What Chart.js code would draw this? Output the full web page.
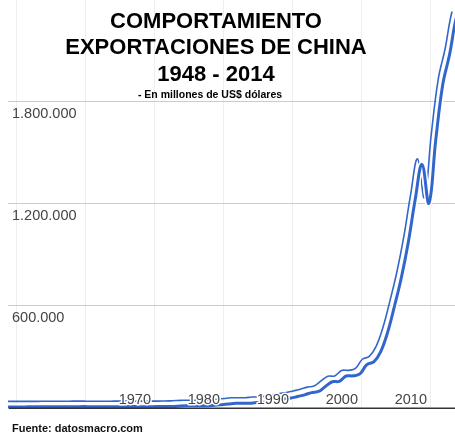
<!DOCTYPE html>
<html>
<head>
<meta charset="utf-8">
<script src="https://cdn.jsdelivr.net/npm/chart.js@4/dist/chart.umd.min.js"></script>
<style>
  html, body { margin: 0; padding: 0; background: #fff; }
  #wrap { position: relative; width: 455px; height: 437px; }
</style>
</head>
<body>
<div id="wrap"><canvas id="chart" width="455" height="437"></canvas></div>
<script>
// exportaciones de China, millones de US$
const years = [
  1948, 1949, 1950, 1951, 1952, 1953, 1954, 1955, 1956, 1957,
  1958, 1959, 1960, 1961, 1962, 1963, 1964, 1965, 1966, 1967,
  1968, 1969, 1970, 1971, 1972, 1973, 1974, 1975, 1976, 1977,
  1978, 1979, 1980, 1981, 1982, 1983, 1984, 1985, 1986, 1987,
  1988, 1989, 1990, 1991, 1992, 1993, 1994, 1995, 1996, 1997,
  1998, 1999, 2000, 2001, 2002, 2003, 2004, 2005, 2006, 2007,
  2008, 2009, 2010, 2011, 2012, 2013, 2014
];
const exportsMUSD = [
  600, 450, 550, 760, 820, 1020, 1150, 1410, 1650, 1600,
  1980, 2260, 1860, 1490, 1490, 1650, 1920, 2230, 2370, 2140,
  2100, 2200, 2310, 2640, 3440, 5820, 6950, 7690, 6860, 7590,
  9750, 13660, 18100, 22000, 22300, 22200, 26100, 27400, 30900, 39400,
  47500, 52500, 62100, 71800, 84900, 91700, 121000, 148800, 151000, 182800,
  183700, 194900, 249200, 266100, 325600, 438200, 593300, 762000, 968900, 1220000,
  1430700, 1201600, 1577800, 1900000, 2080000, 2300000, 2400000
];

const gridYears = [1950, 1960, 1970, 1980, 1990, 2000, 2010];
const xLabelYears = [1970, 1980, 1990, 2000, 2010];
const yTicks = [600000, 1200000, 1800000];
const yTickLabels = ['600.000', '1.200.000', '1.800.000'];

const titleLines = ['COMPORTAMIENTO', 'EXPORTACIONES DE CHINA', '1948 - 2014'];
const subtitle = '- En millones de US$ dólares';
const source = 'Fuente: datosmacro.com';

const BLUE = '#3366cc';
const gridShift = 0.7;   // las lineas de decada caen un poco antes del dato anual

const points = years.map((y, i) => ({x: y, y: exportsMUSD[i]}));

const decor = {
  id: 'decor',
  beforeDatasetDraw(chart, args) {
    if (args.index === 2) {
      chart.ctx.save();
      chart.ctx.translate(-4.5, -5.5);
    }
  },
  afterDatasetDraw(chart, args) {
    if (args.index === 2) chart.ctx.restore();
  },
  afterDatasetsDraw(chart) {
    const ctx = chart.ctx;
    const a = chart.chartArea;
    const xs = chart.scales.x, ys = chart.scales.y;
    ctx.save();

    // eje inferior
    ctx.strokeStyle = '#333';
    ctx.lineWidth = 1.5;
    ctx.beginPath();
    ctx.moveTo(a.left + 1, a.bottom + 1.3);
    ctx.lineTo(a.right, a.bottom + 1.3);
    ctx.stroke();

    // etiquetas del eje x, dentro del grafico
    ctx.font = '14.5px "Liberation Sans", Arial, sans-serif';
    ctx.textAlign = 'right';
    ctx.textBaseline = 'alphabetic';
    ctx.lineJoin = 'round';
    xLabelYears.forEach(yr => {
      const px = xs.getPixelForValue(yr - gridShift) - 4;
      ctx.strokeStyle = '#fff';
      ctx.lineWidth = 3;
      ctx.strokeText(String(yr), px, a.bottom - 3.5);
      ctx.fillStyle = '#444';
      ctx.fillText(String(yr), px, a.bottom - 3.5);
    });

    // etiquetas del eje y
    ctx.textAlign = 'left';
    yTicks.forEach((v, i) => {
      ctx.fillStyle = '#444';
      ctx.fillText(yTickLabels[i], a.left + 4, ys.getPixelForValue(v) + 16.5);
    });

    // titulo
    ctx.fillStyle = '#000';
    ctx.textAlign = 'center';
    ctx.font = 'bold 22px "Liberation Sans", Arial, sans-serif';
    [28, 54, 81].forEach((by, i) => ctx.fillText(titleLines[i], 216, by));
    ctx.font = 'bold 10.5px "Liberation Sans", Arial, sans-serif';
    ctx.fillText(subtitle, 210, 98);

    ctx.textAlign = 'left';
    ctx.fillStyle = '#111';
    ctx.font = 'bold 11px "Liberation Sans", Arial, sans-serif';
    ctx.fillText(source, 12, 432);
    ctx.restore();
  }
};

new Chart(document.getElementById('chart'), {
  type: 'line',
  data: {
    datasets: [
      {
        label: 'Exportaciones',
        data: points,
        borderColor: BLUE,
        borderWidth: 3,
        pointRadius: 0,
        tension: 0.4,
        clip: {left: 0, top: 10, right: 0, bottom: 2}
      },
      {
        label: 'halo',
        data: points,
        borderColor: '#fff',
        borderWidth: 6,
        pointRadius: 0,
        tension: 0.4,
        clip: {left: 0, top: 10, right: 0, bottom: 0}
      },
      {
        label: 'sombra',
        data: points,
        borderColor: BLUE,
        borderWidth: 1.6,
        pointRadius: 0,
        tension: 0.4,
        clip: {left: -4.5, top: 10, right: 4.5, bottom: 5}
      }
    ]
  },
  options: {
    responsive: false,
    animation: false,
    devicePixelRatio: 1,
    layout: {padding: {left: 8, right: 0, top: 0, bottom: 30}},
    plugins: {legend: {display: false}, tooltip: {enabled: false}},
    scales: {
      x: {
        type: 'linear',
        min: 1948,
        max: 2012.78,
        afterBuildTicks: axis => { axis.ticks = gridYears.map(v => ({value: v - gridShift})); },
        ticks: {display: false},
        grid: {color: '#eeeeee', drawTicks: false},
        border: {display: false}
      },
      y: {
        min: 0,
        max: 2400000,
        afterBuildTicks: axis => { axis.ticks = yTicks.map(v => ({value: v})); },
        ticks: {display: false},
        grid: {color: '#cccccc', drawTicks: false},
        border: {display: false}
      }
    }
  },
  plugins: [decor]
});
</script>
</body>
</html>
